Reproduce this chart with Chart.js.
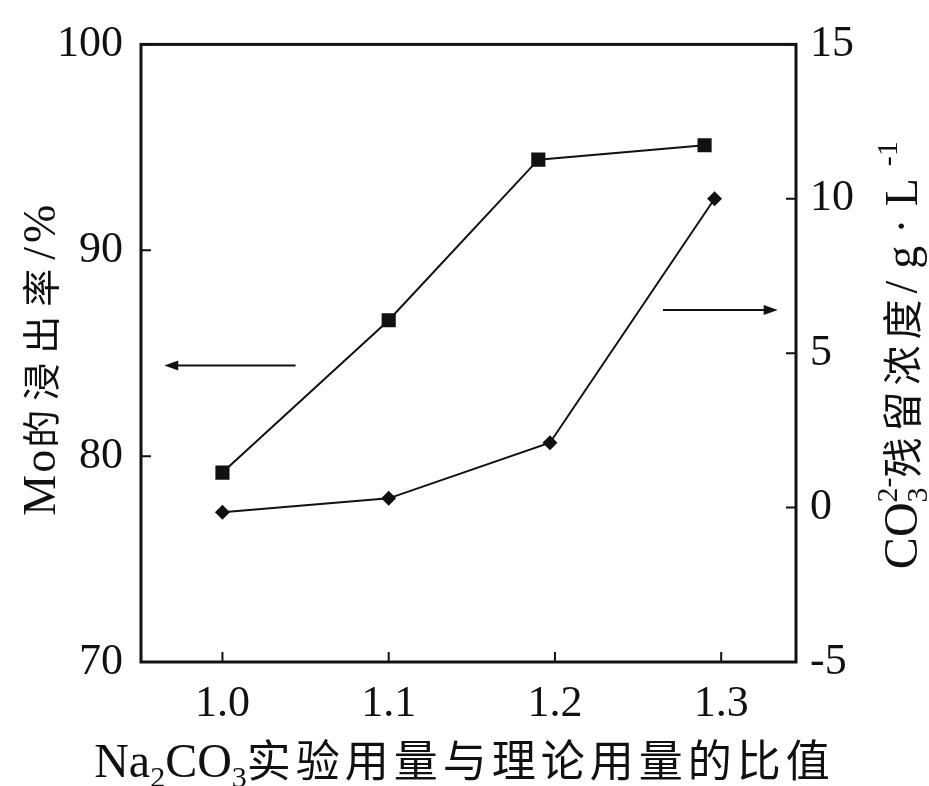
<!DOCTYPE html>
<html>
<head>
<meta charset="utf-8">
<script src="https://cdn.jsdelivr.net/npm/chart.js@4.4.1/dist/chart.umd.min.js"></script>
<style>
  html, body { margin: 0; padding: 0; background: #fff; }
</style>
</head>
<body>
<canvas id="chart" width="929" height="786"></canvas>
<script>
// data
const moRatio = [1.0, 1.1, 1.19, 1.29];
const moLeach = [79.2, 86.6, 94.4, 95.1];        // Mo的浸出率 / %
const co3Ratio = [1.0, 1.1, 1.197, 1.296];
const co3Residual = [-0.15, 0.3, 2.1, 10.0];     // CO3 2- 残留浓度 / g·L-1

const xTicks = [1.0, 1.1, 1.2, 1.3];
const leftTicks = [70, 80, 90, 100];
const rightTicks = [-5, 0, 5, 10, 15];

// arrows telling which axis each curve belongs to
const arrowLeft = { axis: 'yL', y: 84.4, from: 1.044, to: 0.965 };
const arrowRight = { axis: 'yR', y: 6.4, from: 1.265, to: 1.334 };

const LAT = "'Liberation Serif', 'Times New Roman', serif";
const CJK = "'Noto Sans CJK SC', 'Noto Sans CJK JP', sans-serif";

const xTitle = [
    { t: 'Na', size: 48 },
    { t: '2', size: 30, dy: 10 },
    { t: 'CO', size: 48 },
    { t: '3', size: 30, dy: 10 },
    { t: '实验用量与理论用量的比值', cjk: true, size: 44, ls: 5 }
];
const leftTitle = [
    { t: 'Mo', size: 46, ls: 2 },
    { t: '的浸出率', cjk: true, size: 38, ls: 9 },
    { t: '/%', size: 46, ls: 4 }
];
const rightTitle = [
    { t: 'CO', size: 48 },
    { t: '3', size: 30, dy: 10, adv: false },
    { t: '2-', size: 30, dy: -20 },
    { t: '残留浓度', cjk: true, size: 40, ls: 6 },
    { t: '/g·L', size: 46, ls: 12 },
    { t: '-1', size: 30, dy: -20 }
];

function segWidth(ctx, s) {
    ctx.font = s.size + 'px ' + (s.cjk ? CJK : LAT);
    let w = 0;
    for (const ch of s.t) w += ctx.measureText(ch).width + (s.ls || 0);
    return w;
}

function drawRich(ctx, segs, cx, cy, rot) {
    let total = 0;
    segs.forEach(s => { if (s.adv !== false) total += segWidth(ctx, s); });
    ctx.save();
    ctx.translate(cx, cy);
    ctx.rotate(rot);
    ctx.fillStyle = '#111';
    ctx.textAlign = 'left';
    ctx.textBaseline = 'alphabetic';
    let x = -total / 2;
    segs.forEach(s => {
        const w = segWidth(ctx, s);
        let cx2 = x;
        for (const ch of s.t) {
            ctx.fillText(ch, cx2, s.dy || 0);
            cx2 += ctx.measureText(ch).width + (s.ls || 0);
        }
        if (s.adv !== false) x += w;
    });
    ctx.restore();
}

function drawArrow(ctx, chart, a) {
    const xs = chart.scales.x, ys = chart.scales[a.axis];
    const x1 = xs.getPixelForValue(a.from), x2 = xs.getPixelForValue(a.to);
    const y = ys.getPixelForValue(a.y);
    const dir = Math.sign(x2 - x1);
    ctx.save();
    ctx.strokeStyle = '#111';
    ctx.fillStyle = '#111';
    ctx.lineWidth = 2;
    ctx.beginPath();
    ctx.moveTo(x1, y);
    ctx.lineTo(x2 - dir * 8, y);
    ctx.stroke();
    ctx.beginPath();
    ctx.moveTo(x2, y);
    ctx.lineTo(x2 - dir * 14, y - 5);
    ctx.lineTo(x2 - dir * 14, y + 5);
    ctx.closePath();
    ctx.fill();
    ctx.restore();
}

const framePlugin = {
    id: 'frame',
    afterDatasetsDraw(chart) {
        const ctx = chart.ctx;
        const a = chart.chartArea;
        ctx.save();
        ctx.strokeStyle = '#111';
        ctx.lineWidth = 3;
        ctx.strokeRect(a.left, a.top, a.right - a.left, a.bottom - a.top);
        // inward tick marks
        ctx.lineWidth = 2;
        ctx.beginPath();
        const tl = 10;
        xTicks.forEach(v => {
            const px = chart.scales.x.getPixelForValue(v);
            ctx.moveTo(px, a.bottom);
            ctx.lineTo(px, a.bottom - tl);
        });
        leftTicks.forEach(v => {
            const py = chart.scales.yL.getPixelForValue(v);
            ctx.moveTo(a.left, py);
            ctx.lineTo(a.left + tl, py);
        });
        rightTicks.forEach(v => {
            const py = chart.scales.yR.getPixelForValue(v);
            ctx.moveTo(a.right, py);
            ctx.lineTo(a.right - tl, py);
        });
        ctx.stroke();
        ctx.restore();
        drawArrow(ctx, chart, arrowLeft);
        drawArrow(ctx, chart, arrowRight);
    },
    afterDraw(chart) {
        const ctx = chart.ctx;
        const a = chart.chartArea;
        const midY = (a.top + a.bottom) / 2;
        drawRich(ctx, xTitle, (a.left + a.right) / 2 - 4, 777, 0);
        drawRich(ctx, leftTitle, 55, midY + 5, -Math.PI / 2);
        drawRich(ctx, rightTitle, 917, midY + 2, -Math.PI / 2);
    }
};

const tickFont = { family: LAT, size: 44 };

new Chart(document.getElementById('chart').getContext('2d'), {
    type: 'line',
    data: {
        datasets: [{
            label: 'Mo',
            data: moRatio.map((x, i) => ({ x: x, y: moLeach[i] })),
            yAxisID: 'yL',
            borderColor: '#111',
            backgroundColor: '#111',
            borderWidth: 2,
            pointStyle: 'rect',
            pointRadius: 10,
            pointBorderWidth: 0,
            fill: false
        }, {
            label: 'CO3',
            data: co3Ratio.map((x, i) => ({ x: x, y: co3Residual[i] })),
            yAxisID: 'yR',
            borderColor: '#111',
            backgroundColor: '#111',
            borderWidth: 2,
            pointStyle: 'rectRot',
            pointRadius: 7.5,
            pointBorderWidth: 0,
            fill: false
        }]
    },
    options: {
        responsive: false,
        animation: false,
        devicePixelRatio: 1,
        layout: { padding: { top: 43, left: 0, right: 0, bottom: 0 } },
        plugins: {
            legend: { display: false },
            tooltip: { enabled: false }
        },
        scales: {
            x: {
                type: 'linear',
                min: 0.951,
                max: 1.345,
                afterBuildTicks: s => { s.ticks = xTicks.map(v => ({ value: v })); },
                afterFit: s => { s.height = 124; },
                grid: { display: false, drawTicks: false },
                border: { display: false },
                ticks: {
                    font: tickFont,
                    color: '#111',
                    padding: 16,
                    maxRotation: 0,
                    callback: v => v.toFixed(1)
                }
            },
            yL: {
                position: 'left',
                min: 70,
                max: 100,
                afterBuildTicks: s => { s.ticks = leftTicks.map(v => ({ value: v })); },
                afterFit: s => { s.width = 141; },
                grid: { display: false, drawTicks: false },
                border: { display: false },
                ticks: { font: tickFont, color: '#111', padding: 18 }
            },
            yR: {
                position: 'right',
                min: -5,
                max: 15,
                afterBuildTicks: s => { s.ticks = rightTicks.map(v => ({ value: v })); },
                afterFit: s => { s.width = 133; },
                grid: { display: false, drawTicks: false },
                border: { display: false },
                ticks: { font: tickFont, color: '#111', padding: 14 }
            }
        }
    },
    plugins: [framePlugin]
});
</script>
</body>
</html>
